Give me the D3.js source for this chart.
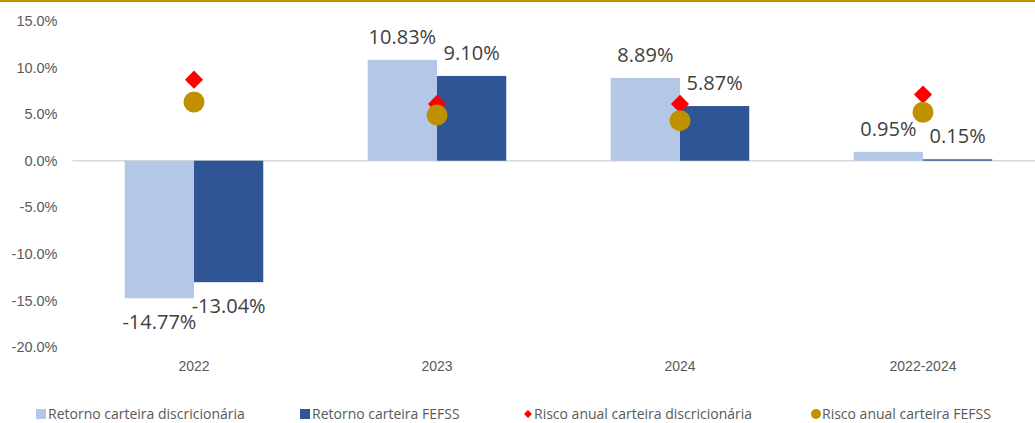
<!DOCTYPE html>
<html>
<head>
<meta charset="utf-8">
<script src="https://cdn.jsdelivr.net/npm/d3@7"></script>
<style>
  body { margin: 0; background: #fff; }
  svg { font-family: "Open Sans", "Liberation Sans", Arial, sans-serif; }
</style>
</head>
<body>
<div id="chart"></div>
<script>
var categories = ["2022", "2023", "2024", "2022-2024"];
var retornoDisc = [-14.77, 10.83, 8.89, 0.95];
var retornoFefss = [-13.04, 9.10, 5.87, 0.15];
var riscoDisc = [8.7, 6.1, 6.1, 7.1];
var riscoFefss = [6.3, 4.9, 4.3, 5.2];
var yTicks = [15, 10, 5, 0, -5, -10, -15, -20];
var seriesNames = ["Retorno carteira discricionária", "Retorno carteira FEFSS",
                   "Risco anual carteira discricionária", "Risco anual carteira FEFSS"];

var W = 1035, H = 423;
var margin = {top: 21, left: 72.5, bottom: 76};
var plotW = 243 * 4, plotH = H - margin.top - margin.bottom;

var svg = d3.select("#chart").append("svg")
    .attr("width", W)
    .attr("height", H);

// gold rule at top
svg.append("rect")
    .attr("x", 0).attr("y", 0)
    .attr("width", W).attr("height", 2)
    .attr("fill", "#bf9000");

var g = svg.append("g")
    .attr("transform", "translate(" + margin.left + "," + margin.top + ")");

var x = d3.scaleBand().domain(categories).range([0, plotW]).paddingInner(0.43).paddingOuter(0.215);
var x1 = d3.scaleBand().domain([0, 1]).range([0, x.bandwidth()]);
var y = d3.scaleLinear().domain([-20, 15]).range([plotH, 0]);

var colDisc = "#b4c7e7", colFefss = "#2f5597";

// y axis labels
var yAxis = d3.axisLeft(y).tickValues(yTicks).tickSize(0).tickPadding(15)
    .tickFormat(d => d.toFixed(1) + "%");
var ya = g.append("g").call(yAxis);
ya.select(".domain").remove();
ya.selectAll("text").attr("fill", "#595959").style("font-size", "14.5px");

// zero line
g.append("line")
    .attr("x1", 0).attr("x2", W - margin.left)
    .attr("y1", y(0)).attr("y2", y(0))
    .attr("stroke", "#d9d9d9").attr("stroke-width", 1.5);

// bars
var rows = categories.map((c, i) => ({cat: c, vals: [retornoDisc[i], retornoFefss[i]],
    risk: [riscoDisc[i], riscoFefss[i]]}));

var grp = g.selectAll(".grp").data(rows).enter().append("g")
    .attr("transform", d => "translate(" + x(d.cat) + ",0)");

grp.selectAll("rect").data(d => d.vals).enter().append("rect")
    .attr("x", (d, i) => x1(i))
    .attr("width", x1.bandwidth())
    .attr("y", d => y(Math.max(0, d)))
    .attr("height", d => Math.abs(y(d) - y(0)))
    .attr("fill", (d, i) => i == 0 ? colDisc : colFefss);

// data labels
grp.selectAll("text.lbl").data(d => d.vals).enter().append("text")
    .attr("class", "lbl")
    .attr("x", (d, i) => x1(i) + x1.bandwidth() / 2)
    .attr("y", d => d >= 0 ? y(d) - 16 : y(d) + 31)
    .attr("text-anchor", "middle")
    .attr("fill", "#404040")
    .style("font-size", "20px")
    .text(d => d.toFixed(2) + "%");

// risk markers
grp.append("path")
    .attr("d", d3.symbol().type(d3.symbolDiamond2).size(210))
    .attr("transform", d => "translate(" + x.bandwidth() / 2 + "," + y(d.risk[0]) + ")")
    .attr("fill", "#ff0000");
grp.append("circle")
    .attr("cx", x.bandwidth() / 2)
    .attr("cy", d => y(d.risk[1]))
    .attr("r", 10.5)
    .attr("fill", "#bf9000");

// category labels
var xAxis = d3.axisBottom(x).tickSize(0).tickPadding(14);
var xa = g.append("g").attr("transform", "translate(0," + plotH + ")").call(xAxis);
xa.select(".domain").remove();
xa.selectAll("text").attr("fill", "#595959").style("font-size", "14px");

// legend
var legX = [36, 300, 524, 812];
var leg = svg.selectAll(".leg").data(seriesNames).enter().append("g")
    .attr("transform", (d, i) => "translate(" + legX[i] + ",414)");
leg.each(function(d, i) {
    var s = d3.select(this);
    if (i < 2) {
        s.append("rect").attr("x", 0).attr("y", -5).attr("width", 10).attr("height", 10)
            .attr("fill", i == 0 ? colDisc : colFefss);
    } else if (i == 2) {
        s.append("path").attr("d", d3.symbol().type(d3.symbolDiamond2).size(40))
            .attr("transform", "translate(4,0)").attr("fill", "#ff0000");
    } else {
        s.append("circle").attr("cx", 4).attr("cy", 0).attr("r", 5).attr("fill", "#bf9000");
    }
    s.append("text")
        .attr("x", i < 2 ? 12 : 10)
        .attr("y", 5)
        .attr("fill", "#595959")
        .style("font-size", "14px")
        .text(d);
});
</script>
</body>
</html>
